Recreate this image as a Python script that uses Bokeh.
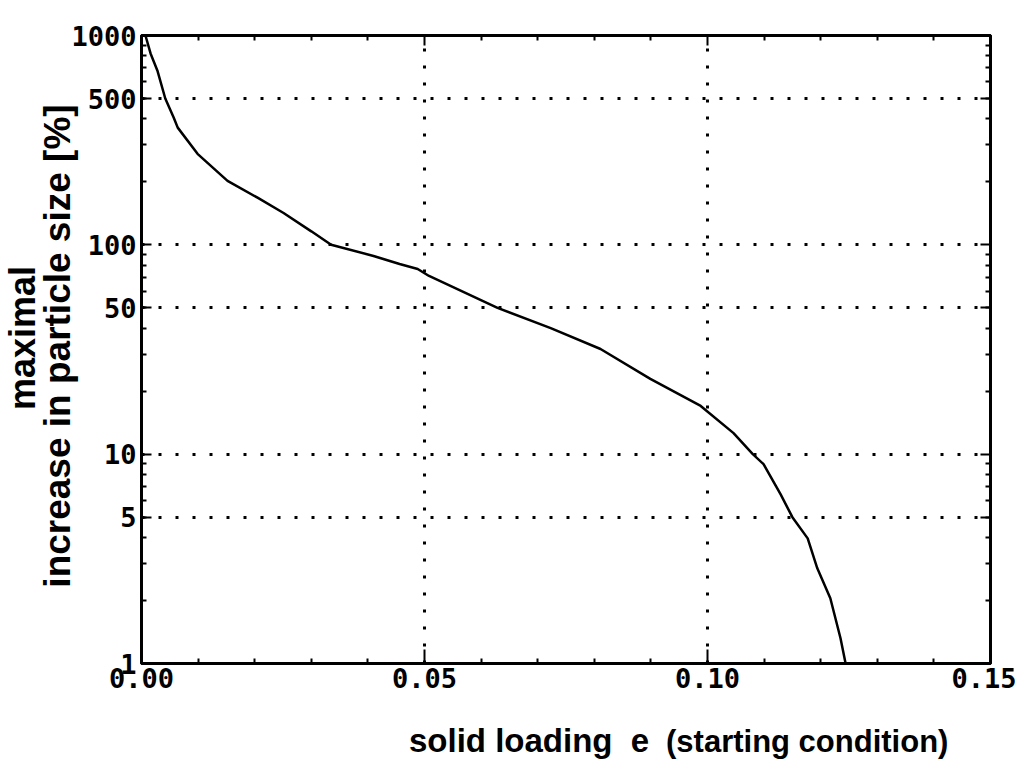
from bokeh.plotting import figure
from bokeh.models import (FixedTicker, NumeralTickFormatter, LinearAxis, LogAxis, Div)
from bokeh.layouts import row, column
from bokeh.embed import file_html
from bokeh.resources import INLINE

# ---- data ----
solid_loading = [0.0007, 0.0016, 0.0028, 0.0042, 0.0057, 0.0064, 0.0099, 0.0152, 0.0205,
                 0.0251, 0.0300, 0.0335, 0.0410, 0.0456, 0.0488, 0.0508, 0.0629, 0.0723,
                 0.0811, 0.0899, 0.0988, 0.1046, 0.1080, 0.1099, 0.1129, 0.1150, 0.1177,
                 0.1194, 0.1217, 0.1235, 0.1244]
max_increase = [1000, 821, 681, 500, 405, 363, 272, 202, 168,
                142, 116, 100, 88.5, 81, 76.7, 71, 50, 40,
                31.8, 22.9, 17.0, 12.6, 10.0, 8.96, 6.44, 5.0, 3.96,
                2.85, 2.05, 1.32, 1.0]

x_ticks = [0.0, 0.05, 0.10, 0.15]
x_minor = [0.01, 0.02, 0.03, 0.04, 0.06, 0.07, 0.08, 0.09, 0.11, 0.12, 0.13, 0.14]
y_ticks = [1, 5, 10, 50, 100, 500, 1000]
y_minor = [m * d for d in (1, 10, 100) for m in (2, 3, 4, 5, 6, 7, 8, 9)]

x_label_main = "solid loading&nbsp;&nbsp;e"
x_label_sub = "(starting condition)"
y_label_1 = "maximal"
y_label_2 = "increase in particle size [%]"

TICK_FONT = "'DejaVu Sans Mono', monospace"
LABEL_FONT = "'Liberation Sans', Arial, sans-serif"

YDIV_W = 64
p = figure(width=1016 - YDIV_W, height=705, output_backend="svg", toolbar_location=None,
           x_range=(0, 0.15), y_range=(1, 1000), y_axis_type="log",
           min_border_left=141 - YDIV_W, min_border_right=26, min_border_top=35,
           min_border_bottom=42)

p.background_fill_color = "white"
p.border_fill_color = None
p.outline_line_color = "black"
p.outline_line_width = 3

xt = FixedTicker(ticks=x_ticks, minor_ticks=x_minor)
yt = FixedTicker(ticks=y_ticks, minor_ticks=y_minor)

def style(ax, labels=True, long_major=10):
    ax.axis_line_color = "black"
    ax.axis_line_width = 3
    ax.major_tick_in = long_major
    ax.major_tick_out = 0
    ax.minor_tick_in = 5
    ax.minor_tick_out = 0
    ax.major_tick_line_width = 2
    ax.minor_tick_line_width = 2
    ax.major_tick_line_color = "black"
    ax.minor_tick_line_color = "black"
    if labels:
        ax.major_label_text_font = TICK_FONT
        ax.major_label_text_font_style = "bold"
        ax.major_label_text_font_size = "27px"
        ax.major_label_text_color = "black"
    else:
        ax.major_label_text_font_size = "0px"
        ax.major_label_text_color = None

xa = p.xaxis[0]
xa.ticker = xt
xa.formatter = NumeralTickFormatter(format="0.00")
style(xa, long_major=14)
xa.major_label_standoff = 4

ya = p.yaxis[0]
ya.ticker = yt
ya.formatter = NumeralTickFormatter(format="0")
style(ya, long_major=10)
ya.major_label_standoff = 5

top = LinearAxis(ticker=FixedTicker(ticks=x_ticks, minor_ticks=x_minor))
style(top, labels=False, long_major=10)
p.add_layout(top, "above")
right = LogAxis(ticker=FixedTicker(ticks=y_ticks, minor_ticks=y_minor))
style(right, labels=False, long_major=10)
p.add_layout(right, "right")

for g in (p.xgrid[0], p.ygrid[0]):
    g.grid_line_color = "black"
    g.grid_line_width = 3
    g.grid_line_dash = "3 14"
p.xgrid[0].ticker = xt
p.ygrid[0].ticker = yt

p.line(solid_loading, max_increase, line_color="black", line_width=2.5)

# rotated y-axis title (two lines), reading bottom-to-top
def vline(txt, left_px, size, center):
    span_len = 2 * center
    return (f'<div style="position:absolute;left:0;top:0;width:{span_len}px;height:{size}px;'
            f'line-height:{size}px;font-size:{size}px;text-align:center;white-space:nowrap;'
            f'transform-origin:0 0;transform:translate({left_px}px,{span_len}px) rotate(-90deg);">'
            f'{txt}</div>')

ydiv_html = (f'<div style="position:relative;width:{YDIV_W}px;height:705px;overflow:visible;'
             f'font-family:{LABEL_FONT};font-weight:bold;color:black;">'
             + vline(y_label_1, 5, 36, 338) + vline(y_label_2, 39, 37, 346) + '</div>')
ydiv = Div(text=ydiv_html, width=YDIV_W, height=705, margin=(0, 0, 0, 0),
           styles={"overflow": "visible", "z-index": "5"},
           stylesheets=[":host { overflow: visible !important; } div { overflow: visible !important; }"])

xdiv_html = (f'<div style="position:relative;width:1016px;height:51px;'
             f'font-family:{LABEL_FONT};font-weight:bold;color:black;white-space:nowrap;">'
             f'<span style="position:absolute;left:409px;top:19px;font-size:33px;line-height:33px;">{x_label_main}</span>'
             f'<span style="position:absolute;left:666px;top:21px;font-size:31px;line-height:31px;">{x_label_sub}</span>'
             '</div>')
xdiv = Div(text=xdiv_html, width=1016, height=51, margin=(0, 0, 0, 0))

layout = column(row(ydiv, p, spacing=0), xdiv, spacing=0)

open("out.html", "w").write(file_html(layout, INLINE))
